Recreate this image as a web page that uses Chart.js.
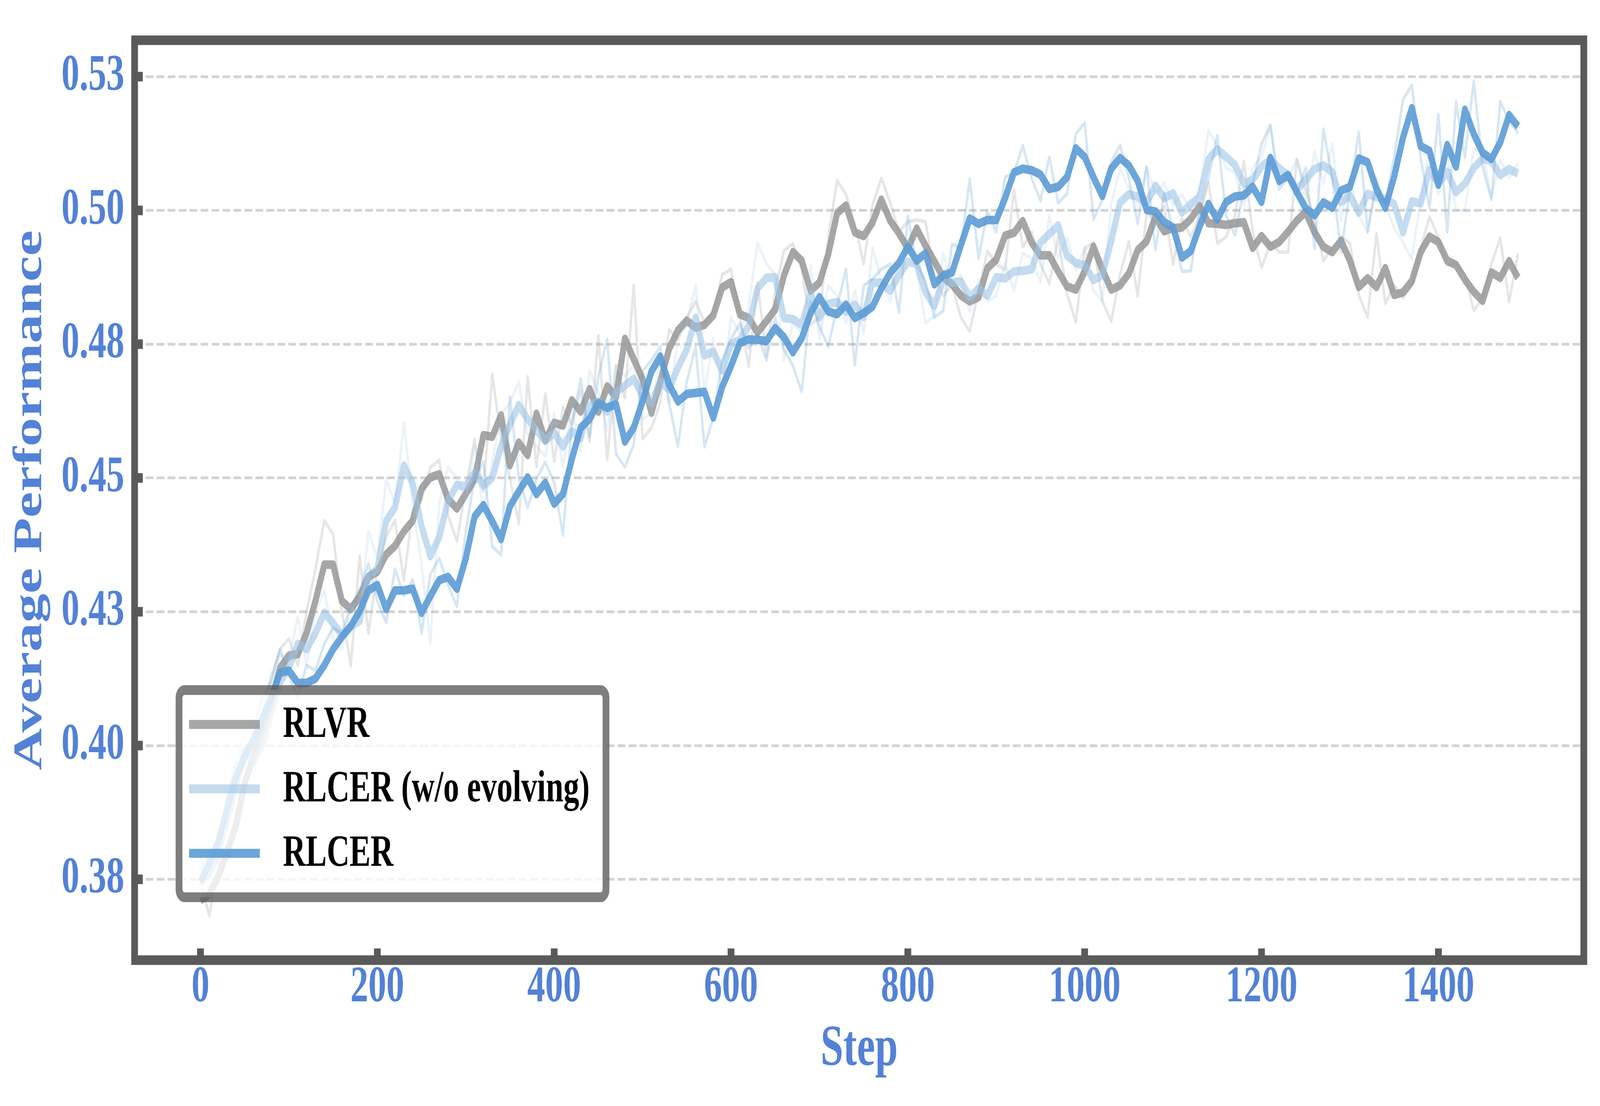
<!DOCTYPE html>
<html>
<head>
<meta charset="utf-8">
<script src="https://cdn.jsdelivr.net/npm/chart.js@4.4.1/dist/chart.umd.min.js"></script>
<style>
  html, body { margin: 0; padding: 0; background: #fff; overflow: hidden; }
  canvas { display: block; width: 100vw; height: 100vh; }
</style>
</head>
<body>
<canvas id="chart" width="5831" height="2832" style="width: 100vw; height: 100vh;"></canvas>
<script>
// training steps (x categories)
const steps = [0, 10, 20, 30, 40, 50, 60, 70, 80, 90, 100, 110, 120, 130, 140, 150, 160, 170, 180, 190,
  200, 210, 220, 230, 240, 250, 260, 270, 280, 290, 300, 310, 320, 330, 340, 350, 360, 370, 380, 390,
  400, 410, 420, 430, 440, 450, 460, 470, 480, 490, 500, 510, 520, 530, 540, 550, 560, 570, 580, 590,
  600, 610, 620, 630, 640, 650, 660, 670, 680, 690, 700, 710, 720, 730, 740, 750, 760, 770, 780, 790,
  800, 810, 820, 830, 840, 850, 860, 870, 880, 890, 900, 910, 920, 930, 940, 950, 960, 970, 980, 990,
  1000, 1010, 1020, 1030, 1040, 1050, 1060, 1070, 1080, 1090, 1100, 1110, 1120, 1130, 1140, 1150, 1160, 1170, 1180, 1190,
  1200, 1210, 1220, 1230, 1240, 1250, 1260, 1270, 1280, 1290, 1300, 1310, 1320, 1330, 1340, 1350, 1360, 1370, 1380, 1390,
  1400, 1410, 1420, 1430, 1440, 1450, 1460, 1470, 1480, 1490];

// RLVR
const rlvrRaw = [0.3745, 0.3682, 0.3780, 0.3850, 0.3920, 0.3990, 0.4000, 0.4060, 0.4130, 0.4180,
  0.4200, 0.4150, 0.4250, 0.4330, 0.4420, 0.4395, 0.4250, 0.4149, 0.4354, 0.4210,
  0.4330, 0.4390, 0.4421, 0.4309, 0.4440, 0.4459, 0.4520, 0.4533, 0.4430, 0.4382,
  0.4480, 0.4573, 0.4475, 0.4694, 0.4573, 0.4500, 0.4414, 0.4689, 0.4521, 0.4657,
  0.4531, 0.4633, 0.4600, 0.4664, 0.4568, 0.4766, 0.4535, 0.4710, 0.4650, 0.4860,
  0.4573, 0.4594, 0.4640, 0.4778, 0.4760, 0.4800, 0.4830, 0.4790, 0.4810, 0.4880,
  0.4890, 0.4800, 0.4709, 0.4865, 0.4729, 0.4850, 0.4925, 0.4938, 0.4890, 0.4786,
  0.4800, 0.4950, 0.5056, 0.5030, 0.4975, 0.4900, 0.5010, 0.5060, 0.5014, 0.4960,
  0.4979, 0.4982, 0.4979, 0.4880, 0.4841, 0.4860, 0.4800, 0.4774, 0.4850, 0.4924,
  0.4900, 0.4889, 0.5039, 0.4932, 0.4960, 0.4900, 0.4863, 0.4950, 0.4844, 0.4791,
  0.4929, 0.4940, 0.4830, 0.4793, 0.4880, 0.4942, 0.4840, 0.4995, 0.4980, 0.5007,
  0.4899, 0.4985, 0.4950, 0.4990, 0.5052, 0.4938, 0.4951, 0.4990, 0.5092, 0.4960,
  0.4893, 0.4940, 0.4922, 0.4922, 0.5095, 0.5040, 0.4980, 0.4906, 0.4930, 0.4951,
  0.4938, 0.4842, 0.4800, 0.4957, 0.4826, 0.4860, 0.4836, 0.4860, 0.4930, 0.4988,
  0.4950, 0.4898, 0.4900, 0.4880, 0.4813, 0.4836, 0.4900, 0.4949, 0.4829, 0.4920];
const rlvrSmooth = [0.3711, 0.3722, 0.3755, 0.3800, 0.3850, 0.3930, 0.3980, 0.4025, 0.4080, 0.4145,
  0.4168, 0.4171, 0.4210, 0.4270, 0.4338, 0.4338, 0.4270, 0.4255, 0.4278, 0.4315,
  0.4325, 0.4357, 0.4373, 0.4400, 0.4420, 0.4480, 0.4501, 0.4507, 0.4460, 0.4443,
  0.4470, 0.4498, 0.4580, 0.4577, 0.4617, 0.4524, 0.4566, 0.4543, 0.4620, 0.4570,
  0.4603, 0.4598, 0.4645, 0.4624, 0.4666, 0.4624, 0.4671, 0.4652, 0.4760, 0.4722,
  0.4685, 0.4622, 0.4680, 0.4741, 0.4776, 0.4794, 0.4781, 0.4786, 0.4804, 0.4856,
  0.4866, 0.4806, 0.4799, 0.4772, 0.4793, 0.4815, 0.4879, 0.4922, 0.4906, 0.4850,
  0.4865, 0.4918, 0.4995, 0.5009, 0.4959, 0.4952, 0.4977, 0.5020, 0.4981, 0.4957,
  0.4929, 0.4966, 0.4934, 0.4905, 0.4875, 0.4862, 0.4841, 0.4830, 0.4838, 0.4892,
  0.4908, 0.4953, 0.4958, 0.4980, 0.4940, 0.4916, 0.4916, 0.4886, 0.4858, 0.4852,
  0.4886, 0.4932, 0.4889, 0.4852, 0.4860, 0.4882, 0.4926, 0.4942, 0.4988, 0.4961,
  0.4967, 0.4968, 0.4984, 0.5008, 0.4976, 0.4975, 0.4973, 0.4976, 0.4978, 0.4930,
  0.4952, 0.4932, 0.4941, 0.4960, 0.4981, 0.4997, 0.4959, 0.4932, 0.4922, 0.4943,
  0.4906, 0.4857, 0.4873, 0.4857, 0.4892, 0.4842, 0.4847, 0.4868, 0.4922, 0.4951,
  0.4941, 0.4906, 0.4898, 0.4871, 0.4848, 0.4831, 0.4884, 0.4874, 0.4905, 0.4874];

// RLCER (w/o evolving)
const noEvoRaw = [0.3790, 0.3750, 0.3830, 0.3900, 0.3960, 0.4030, 0.3940, 0.4040, 0.4110, 0.4170,
  0.4160, 0.4240, 0.4150, 0.4250, 0.4290, 0.4200, 0.4180, 0.4260, 0.4240, 0.4400,
  0.4350, 0.4498, 0.4450, 0.4603, 0.4450, 0.4340, 0.4191, 0.4453, 0.4520, 0.4500,
  0.4460, 0.4560, 0.4440, 0.4530, 0.4620, 0.4640, 0.4680, 0.4580, 0.4560, 0.4540,
  0.4620, 0.4520, 0.4630, 0.4550, 0.4700, 0.4660, 0.4590, 0.4710, 0.4690, 0.4710,
  0.4610, 0.4620, 0.4730, 0.4640, 0.4760, 0.4790, 0.4860, 0.4660, 0.4760, 0.4660,
  0.4800, 0.4770, 0.4820, 0.4940, 0.4900, 0.4880, 0.4720, 0.4790, 0.4770, 0.4897,
  0.4760, 0.4860, 0.4840, 0.4790, 0.4850, 0.4770, 0.4930, 0.4870, 0.4830, 0.4910,
  0.4940, 0.4890, 0.4790, 0.4802, 0.4920, 0.4860, 0.4880, 0.4810, 0.4870, 0.4830,
  0.4841, 0.4900, 0.4850, 0.4920, 0.4910, 0.4866, 0.4990, 0.4911, 0.4950, 0.4887,
  0.4932, 0.4850, 0.4830, 0.5011, 0.5080, 0.5040, 0.5010, 0.5081, 0.5030, 0.5052,
  0.5010, 0.5030, 0.5000, 0.5040, 0.5150, 0.5120, 0.5080, 0.5070, 0.5010, 0.5080,
  0.5100, 0.5159, 0.5050, 0.5060, 0.5096, 0.5020, 0.5110, 0.5050, 0.5124, 0.4980,
  0.5060, 0.4990, 0.4958, 0.5060, 0.5010, 0.4967, 0.4940, 0.4909, 0.5020, 0.5115,
  0.5030, 0.5100, 0.5000, 0.5000, 0.5115, 0.5110, 0.5024, 0.5094, 0.5061, 0.5088];
const noEvoSmooth = [0.3745, 0.3760, 0.3800, 0.3860, 0.3920, 0.3990, 0.3970, 0.4000, 0.4060, 0.4118,
  0.4145, 0.4190, 0.4180, 0.4210, 0.4248, 0.4229, 0.4206, 0.4222, 0.4233, 0.4315,
  0.4330, 0.4420, 0.4445, 0.4523, 0.4490, 0.4410, 0.4354, 0.4389, 0.4458, 0.4487,
  0.4484, 0.4510, 0.4486, 0.4500, 0.4560, 0.4600, 0.4636, 0.4610, 0.4589, 0.4570,
  0.4584, 0.4559, 0.4587, 0.4575, 0.4636, 0.4643, 0.4624, 0.4659, 0.4673, 0.4685,
  0.4654, 0.4640, 0.4680, 0.4666, 0.4706, 0.4740, 0.4799, 0.4729, 0.4736, 0.4701,
  0.4750, 0.4758, 0.4784, 0.4854, 0.4874, 0.4875, 0.4799, 0.4797, 0.4786, 0.4843,
  0.4800, 0.4825, 0.4829, 0.4811, 0.4824, 0.4801, 0.4865, 0.4865, 0.4850, 0.4879,
  0.4904, 0.4900, 0.4847, 0.4822, 0.4870, 0.4865, 0.4867, 0.4838, 0.4854, 0.4841,
  0.4875, 0.4873, 0.4886, 0.4887, 0.4890, 0.4940, 0.4956, 0.4972, 0.4915, 0.4902,
  0.4897, 0.4870, 0.4879, 0.4943, 0.5015, 0.5030, 0.5026, 0.5014, 0.5046, 0.5023,
  0.5032, 0.4996, 0.5012, 0.5025, 0.5096, 0.5114, 0.5100, 0.5085, 0.5050, 0.5057,
  0.5082, 0.5095, 0.5079, 0.5066, 0.5039, 0.5057, 0.5077, 0.5084, 0.5072, 0.5016,
  0.5028, 0.4996, 0.5031, 0.5025, 0.5021, 0.5012, 0.4959, 0.5017, 0.5013, 0.5076,
  0.5050, 0.5072, 0.5034, 0.5050, 0.5079, 0.5097, 0.5092, 0.5066, 0.5077, 0.5069];

// RLCER
const rlcerRaw = [0.3770, 0.3800, 0.3780, 0.3900, 0.3970, 0.3960, 0.4030, 0.4090, 0.4120, 0.4180,
  0.4130, 0.4090, 0.4150, 0.4140, 0.4190, 0.4220, 0.4210, 0.4260, 0.4290, 0.4340,
  0.4270, 0.4230, 0.4330, 0.4280, 0.4310, 0.4210, 0.4320, 0.4350, 0.4300, 0.4260,
  0.4400, 0.4500, 0.4530, 0.4372, 0.4356, 0.4652, 0.4500, 0.4445, 0.4498, 0.4530,
  0.4491, 0.4393, 0.4600, 0.4685, 0.4577, 0.4690, 0.4759, 0.4545, 0.4520, 0.4563,
  0.4700, 0.4720, 0.4745, 0.4640, 0.4559, 0.4680, 0.4745, 0.4558, 0.4613, 0.4720,
  0.4760, 0.4788, 0.4743, 0.4770, 0.4720, 0.4800, 0.4740, 0.4710, 0.4661, 0.4830,
  0.4783, 0.4745, 0.4820, 0.4890, 0.4711, 0.4859, 0.4872, 0.4890, 0.4900, 0.4809,
  0.4989, 0.4900, 0.4868, 0.4800, 0.4812, 0.4937, 0.4930, 0.5059, 0.4910, 0.5000,
  0.4960, 0.5062, 0.5070, 0.5121, 0.5060, 0.5018, 0.5100, 0.5014, 0.5031, 0.5143,
  0.5164, 0.4983, 0.5020, 0.5090, 0.5122, 0.5060, 0.4975, 0.5081, 0.4926, 0.5033,
  0.4960, 0.4886, 0.4887, 0.5000, 0.5060, 0.5140, 0.4990, 0.4954, 0.5040, 0.5050,
  0.5124, 0.5159, 0.5040, 0.5060, 0.5030, 0.5080, 0.4929, 0.5152, 0.5060, 0.4922,
  0.5040, 0.5146, 0.4961, 0.5050, 0.5010, 0.5100, 0.5207, 0.5234, 0.5098, 0.5004,
  0.5179, 0.4960, 0.5203, 0.5098, 0.5242, 0.5082, 0.5020, 0.5203, 0.5168, 0.5144];
const rlcerSmooth = [0.3745, 0.3780, 0.3820, 0.3880, 0.3940, 0.3980, 0.4010, 0.4050, 0.4090, 0.4136,
  0.4140, 0.4117, 0.4117, 0.4125, 0.4150, 0.4180, 0.4203, 0.4223, 0.4251, 0.4290,
  0.4300, 0.4255, 0.4290, 0.4290, 0.4293, 0.4248, 0.4279, 0.4309, 0.4315, 0.4293,
  0.4349, 0.4428, 0.4449, 0.4419, 0.4386, 0.4447, 0.4475, 0.4501, 0.4470, 0.4491,
  0.4452, 0.4470, 0.4535, 0.4594, 0.4610, 0.4640, 0.4631, 0.4638, 0.4568, 0.4594,
  0.4643, 0.4699, 0.4727, 0.4675, 0.4643, 0.4657, 0.4659, 0.4661, 0.4613, 0.4670,
  0.4709, 0.4752, 0.4759, 0.4758, 0.4756, 0.4780, 0.4763, 0.4735, 0.4761, 0.4808,
  0.4838, 0.4811, 0.4806, 0.4824, 0.4799, 0.4808, 0.4820, 0.4854, 0.4883, 0.4902,
  0.4932, 0.4906, 0.4920, 0.4862, 0.4879, 0.4884, 0.4935, 0.4985, 0.4975, 0.4982,
  0.4982, 0.5023, 0.5071, 0.5078, 0.5075, 0.5067, 0.5040, 0.5044, 0.5062, 0.5116,
  0.5100, 0.5062, 0.5027, 0.5078, 0.5098, 0.5084, 0.5055, 0.5001, 0.4998, 0.4978,
  0.4968, 0.4912, 0.4924, 0.4970, 0.5012, 0.4983, 0.5016, 0.5026, 0.5028, 0.5044,
  0.5016, 0.5098, 0.5055, 0.5066, 0.5034, 0.5004, 0.4991, 0.5015, 0.5005, 0.5037,
  0.5044, 0.5097, 0.5090, 0.5040, 0.5005, 0.5063, 0.5136, 0.5191, 0.5120, 0.5111,
  0.5048, 0.5122, 0.5082, 0.5188, 0.5143, 0.5108, 0.5096, 0.5127, 0.5178, 0.5157];

const xTickValues = [0, 200, 400, 600, 800, 1000, 1200, 1400];
const xTickLabels = ['0', '200', '400', '600', '800', '1000', '1200', '1400'];
const yTickValues = [0.375, 0.400, 0.425, 0.450, 0.475, 0.500, 0.525];
const yTickLabels = ['0.38', '0.40', '0.43', '0.45', '0.48', '0.50', '0.53'];
const seriesNames = ['RLVR', 'RLCER (w/o evolving)', 'RLCER'];

const FONT = "'Liberation Serif', 'Times New Roman', serif";
const LABEL_BLUE = '#5281d6';
const FRAME_COLOR = '#5a5a5a';

const GRAY = 'rgba(150, 150, 150, 0.85)';
const GRAY_RAW = 'rgba(150, 150, 150, 0.24)';
const PALE = 'rgba(157, 195, 230, 0.6)';
const PALE_RAW = 'rgba(157, 195, 230, 0.2)';
const BLUE = 'rgba(91, 155, 213, 0.9)';
const BLUE_RAW = 'rgba(91, 155, 213, 0.25)';
const legendColors = [GRAY, PALE, BLUE];

function lineSet(label, data, color, width) {
    return {
        label: label,
        data: data,
        borderColor: color,
        backgroundColor: color,
        borderWidth: width,
        pointRadius: 0,
        tension: 0,
        fill: false,
        borderJoinStyle: 'round',
        borderCapStyle: 'butt',
    };
}

// box around the plot and the inward tick marks
const framePlugin = {
    id: 'frame',
    afterDraw(chart) {
        const { ctx, chartArea: a, scales } = chart;
        ctx.save();
        ctx.strokeStyle = FRAME_COLOR;
        ctx.lineWidth = 24.5;
        ctx.lineCap = 'butt';
        scales.x.ticks.forEach(t => {
            const px = scales.x.getPixelForValue(t.value);
            ctx.beginPath();
            ctx.moveTo(px, a.bottom);
            ctx.lineTo(px, a.bottom - 30);
            ctx.stroke();
        });
        scales.y.ticks.forEach(t => {
            const py = scales.y.getPixelForValue(t.value);
            ctx.beginPath();
            ctx.moveTo(a.left, py);
            ctx.lineTo(a.left + 30, py);
            ctx.stroke();
        });
        ctx.strokeRect(a.left, a.top, a.right - a.left, a.bottom - a.top);
        ctx.restore();
    }
};

// matplotlib-like legend box in the lower left of the plot
const boxLegendPlugin = {
    id: 'boxLegend',
    afterDraw(chart) {
        const { ctx, chartArea: a } = chart;
        const x0 = a.left + 162, y0 = a.top + 1664;
        ctx.save();
        ctx.beginPath();
        ctx.roundRect(x0, y0, 1556, 530.5, 20);
        ctx.fillStyle = 'rgba(255, 255, 255, 0.8)';
        ctx.fill();
        ctx.lineWidth = 25;
        ctx.strokeStyle = 'rgba(90, 90, 90, 0.78)';
        ctx.stroke();
        ctx.font = `bold 115px ${FONT}`;
        ctx.textBaseline = 'middle';
        ctx.textAlign = 'left';
        seriesNames.forEach((name, i) => {
            const y = y0 + 88 + i * 165;
            ctx.beginPath();
            ctx.moveTo(x0 + 36.5, y);
            ctx.lineTo(x0 + 294.5, y);
            ctx.strokeStyle = legendColors[i];
            ctx.lineWidth = 23;
            ctx.stroke();
            ctx.fillStyle = '#000';
            ctx.fillText(name, x0 + 378.5, y + 2);
        });
        ctx.restore();
    }
};

const tickFont = { family: FONT, size: 131, weight: 'bold', lineHeight: 1 };
const titleFont = { family: FONT, size: 149, weight: 'bold', lineHeight: 1.2 };

new Chart(document.getElementById('chart'), {
    type: 'line',
    data: {
        labels: steps,
        // first dataset is drawn on top
        datasets: [
            lineSet('RLCER', rlcerSmooth, BLUE, 22),
            lineSet('RLCER raw', rlcerRaw, BLUE_RAW, 9),
            lineSet('RLCER (w/o evolving)', noEvoSmooth, PALE, 22),
            lineSet('RLCER (w/o evolving) raw', noEvoRaw, PALE_RAW, 9),
            lineSet('RLVR', rlvrSmooth, GRAY, 22),
            lineSet('RLVR raw', rlvrRaw, GRAY_RAW, 9),
        ]
    },
    options: {
        responsive: false,
        devicePixelRatio: 1,
        animation: false,
        layout: { padding: { left: 0, top: 61, right: 59, bottom: 0 } },
        plugins: {
            legend: { display: false },
            tooltip: { enabled: false },
        },
        scales: {
            x: {
                type: 'linear',
                min: -74.5,
                max: 1564.5,
                afterFit: s => { s.height = 373.5; },
                afterBuildTicks: s => { s.ticks = xTickValues.map(v => ({ value: v })); },
                grid: { display: false, drawTicks: false },
                border: { display: false },
                ticks: {
                    autoSkip: false,
                    maxRotation: 0,
                    padding: 6,
                    color: LABEL_BLUE,
                    font: tickFont,
                    callback: (v, i) => xTickLabels[i],
                },
                title: {
                    display: true,
                    text: 'Step',
                    color: LABEL_BLUE,
                    font: titleFont,
                    padding: { top: 0, bottom: 54 },
                },
            },
            y: {
                min: 0.3599,
                max: 0.5318,
                afterFit: s => { s.width = 490.5; },
                afterBuildTicks: s => { s.ticks = yTickValues.map(v => ({ value: v })); },
                grid: { display: true, drawTicks: false, color: '#d3d3d3', lineWidth: 7 },
                border: { display: false, dash: [28, 12] },
                ticks: {
                    autoSkip: false,
                    padding: 37.5,
                    color: LABEL_BLUE,
                    font: tickFont,
                    callback: (v, i) => yTickLabels[i],
                },
                title: {
                    display: true,
                    text: 'Average Performance',
                    color: LABEL_BLUE,
                    font: titleFont,
                    padding: { top: 22, bottom: 0 },
                },
            },
        },
    },
    plugins: [framePlugin, boxLegendPlugin],
});
</script>
</body>
</html>
